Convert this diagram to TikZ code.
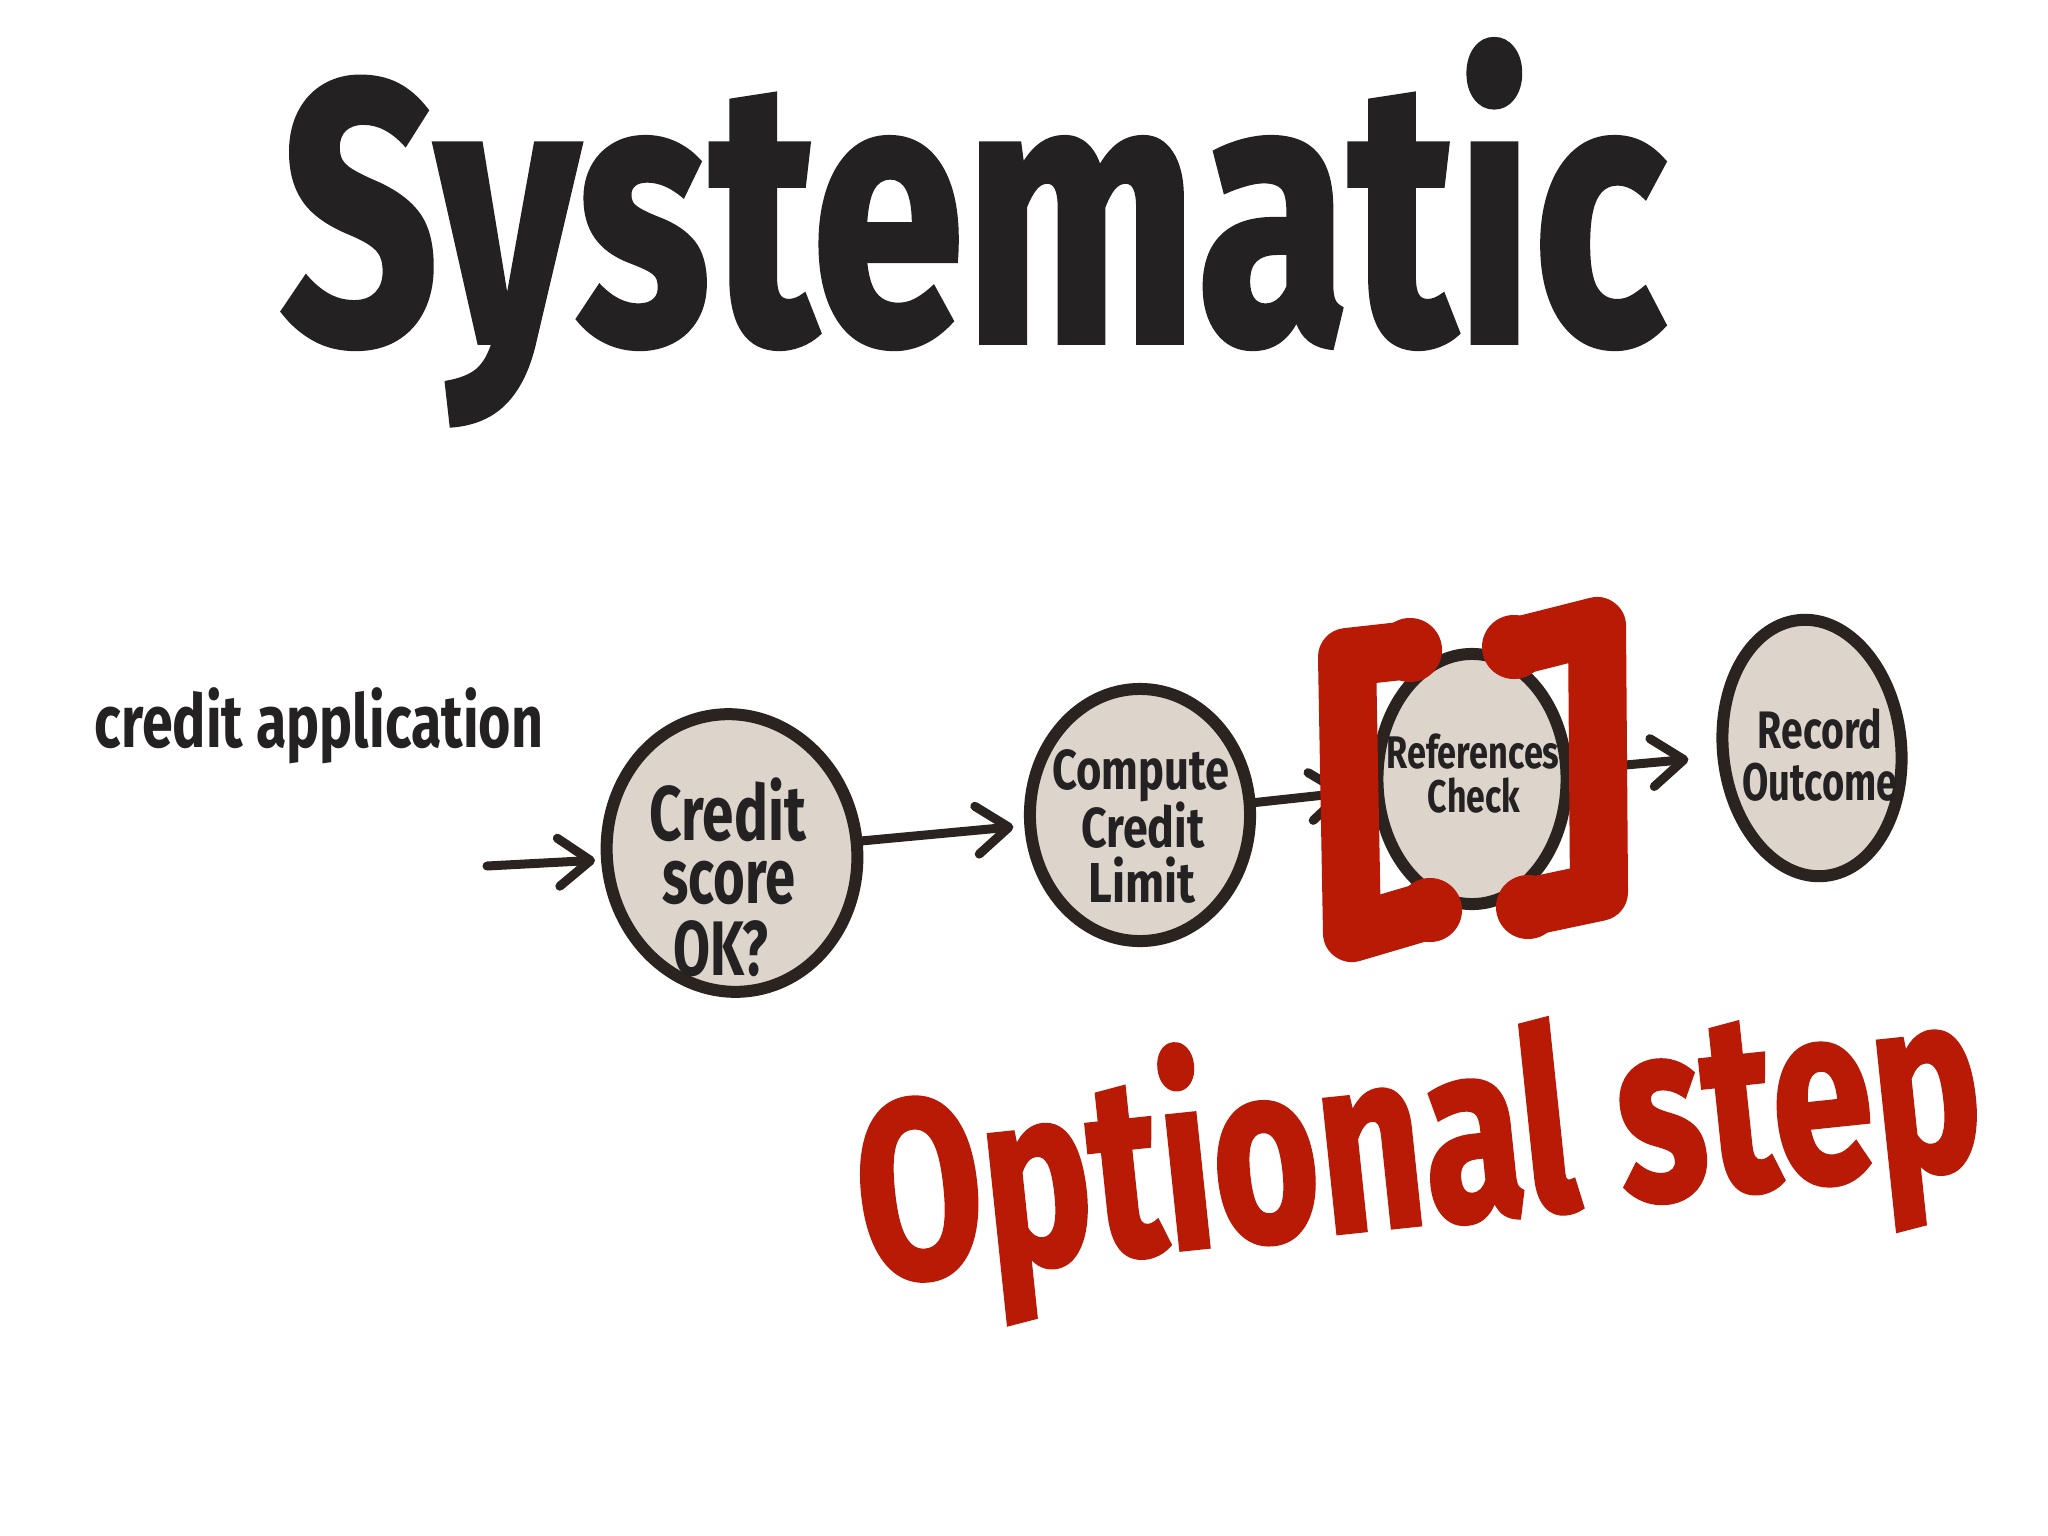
\documentclass[tikz,border=0pt]{standalone}
\usepackage{fontspec}
\usepackage{graphicx}
\usetikzlibrary{arrows.meta,shapes.geometric}
\newfontfamily\hand{Fira Sans}
\newfontfamily\handheavy{Fira Sans}[FakeBold=1.5]
\definecolor{ink}{RGB}{35,33,33}
\definecolor{pen}{RGB}{43,35,31}
\definecolor{paper}{RGB}{221,212,203}
\definecolor{marker}{RGB}{184,26,6}
\newcommand\fitline[3]{\resizebox{#1}{\height}{\fontsize{#2}{#2}\selectfont\hand\bfseries #3}}
\newcommand\fitheavy[3]{\resizebox{#1}{\height}{\fontsize{#2}{#2}\selectfont\handheavy\bfseries #3}}
\tikzset{
  blob/.style={ellipse, draw=pen, fill=paper, line width=0.12cm, inner sep=0pt},
  lbl/.style={anchor=base, inner sep=0pt, text=ink},
  flow/.style={draw=pen, line width=0.09cm, line cap=round,
    -{Straight Barb[length=0.32cm,width=0.48cm,round]}},
  bracketline/.style={draw=marker, line width=0.58cm, line cap=round, line join=round},
  bracketend/.style={fill=marker}
}
\begin{document}
\begin{tikzpicture}[x=0.01cm,y=-0.01cm]
\fill[white] (0,0) rectangle (2048,1536);
\useasboundingbox (0,0) rectangle (2048,1536);

% title
\node[lbl] (title) at (973,342) {\fitheavy{13.84cm}{106pt}{Systematic}};
\node[lbl] (input) at (319,747) {\fitline{4.48cm}{21pt}{credit application}};

% process steps
\node[blob, minimum width=2.50cm, minimum height=2.78cm, rotate=8] (c1) at (732,853) {};
\node[blob, minimum width=2.20cm, minimum height=2.52cm] (c2) at (1140,815) {};
\node[blob, minimum width=1.89cm, minimum height=2.50cm] (c3) at (1472,779) {};
\node[blob, minimum width=1.78cm, minimum height=2.57cm, rotate=6] (c4) at (1812,748) {};

% connectors
\coordinate (in) at (487,866);
\draw[flow, shorten >=0.06cm] (in) -- (c1);
\draw[flow, shorten >=0.11cm] (c1) -- (c2);
\draw[flow, shorten >=0.25cm] (c2) -- (c3);
\draw[flow, shorten >=0.29cm] (c3) -- (c4);

% labels in steps
\node[lbl] (c1a) at (728,840) {\fitline{1.56cm}{22pt}{Credit}};
\node[lbl] (c1b) at (729,903) {\fitline{1.33cm}{22pt}{score}};
\node[lbl] (c1c) at (721,975) {\fitline{0.95cm}{22pt}{OK?}};

\node[lbl] (c2a) at (1141,789) {\fitline{1.77cm}{16pt}{Compute}};
\node[lbl] (c2b) at (1143,847) {\fitline{1.23cm}{16pt}{Credit}};
\node[lbl] (c2c) at (1142,902) {\fitline{1.07cm}{16pt}{Limit}};

\node[lbl] (c3a) at (1473,768) {\fitline{1.73cm}{13pt}{References}};
\node[lbl] (c3b) at (1474,812) {\fitline{0.92cm}{13pt}{Check}};

\node[lbl] (c4a) at (1820,748) {\fitline{1.24cm}{15pt}{Record}};
\node[lbl] (c4b) at (1820,800) {\fitline{1.55cm}{15pt}{Outcome}};

% red brackets around the optional step
\draw[bracketline] (1410,650) -- (1347,657) -- (1352,933) -- (1430,910);
\draw[bracketline] (1514,647) -- (1597,626) -- (1599,892) -- (1528,907);
\fill[bracketend] (1410,650) circle[radius=0.32cm];
\fill[bracketend] (1430,910) circle[radius=0.32cm];
\fill[bracketend] (1514,647) circle[radius=0.32cm];
\fill[bracketend] (1528,907) circle[radius=0.32cm];

% red caption
\node[anchor=base west, inner sep=0pt, text=marker, rotate=6] (opt) at (865,1283)
  {\fitheavy{11.28cm}{72pt}{Optional step}};
\end{tikzpicture}
\end{document}
